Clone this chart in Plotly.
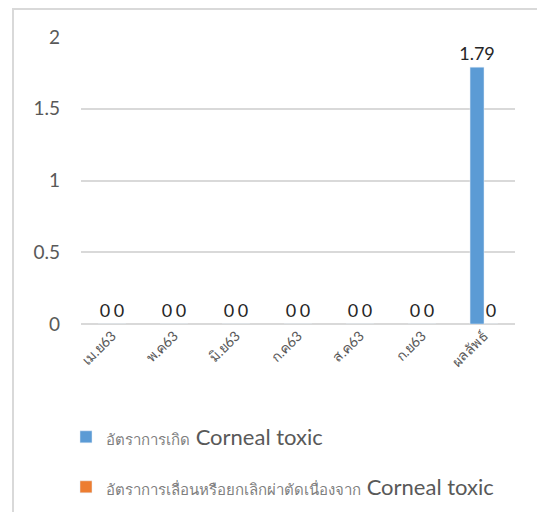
import plotly.graph_objects as go

# Monthly categories (Thai month abbreviations, B.E. 2563) plus summary column
categories = ["เม.ย63", "พ.ค63", "มิ.ย63", "ก.ค63", "ส.ค63", "ก.ย63", "ผลลัพธ์"]
incidence = [0, 0, 0, 0, 0, 0, 1.79]
postponed = [0, 0, 0, 0, 0, 0, 0]
y_ticks = [0, 0.5, 1, 1.5, 2]

blue = "#5B9BD5"
orange = "#ED7D31"
grey_text = "#595959"
num_font = "Lato, 'Open Sans', sans-serif"

def legend_label(thai):
    return (f"<span style='font-size:15px;color:#7f7f7f'>{thai}</span>"
            f" <span style='font-size:22px'>Corneal toxic</span>")

fig = go.Figure()
fig.add_trace(go.Bar(
    x=categories, y=incidence, name=legend_label("อัตราการเกิด"),
    marker_color=blue, text=[f"{v:g}" for v in incidence],
    textposition="outside", cliponaxis=False, constraintext="none",
    textfont=dict(size=18, color="#262626", family=num_font),
    legend="legend",
))
fig.add_trace(go.Bar(
    x=categories, y=postponed,
    name=legend_label("อัตราการเลื่อนหรือยกเลิกผ่าตัดเนื่องจาก"),
    marker_color=orange, text=[f"{v:g}" for v in postponed],
    textposition="outside", cliponaxis=False, constraintext="none",
    textfont=dict(size=18, color="#262626", family=num_font),
    legend="legend2",
))

W, H = 537, 512
ml, mr, mt, mb = 81, 22, 37, 188
pw, ph = W - ml - mr, H - mt - mb

def px_x(x):
    return (x - ml) / pw

def px_y(y):
    return (H - mb - y) / ph

def legend_box(y_px):
    return dict(
        xref="container", yref="container",
        x=66 / W, y=1 - y_px / H, xanchor="left", yanchor="middle",
        bgcolor="rgba(0,0,0,0)", font=dict(size=22, color=grey_text),
        itemwidth=30,
    )

fig.update_layout(
    width=W, height=H,
    margin=dict(l=ml, r=mr, t=mt, b=mb, autoexpand=False),
    paper_bgcolor="white", plot_bgcolor="white",
    barmode="group", bargap=0.55, bargroupgap=0,
    font=dict(family=num_font, color=grey_text),
    xaxis=dict(
        tickangle=-45, tickfont=dict(size=14, color=grey_text),
        showgrid=False, showline=False, ticks="",
    ),
    yaxis=dict(
        range=[0, 2], tickvals=y_ticks, ticktext=[f"{v:g}" for v in y_ticks],
        tickfont=dict(size=19, color=grey_text),
        showgrid=True, gridcolor="#D9D9D9", gridwidth=2,
        zeroline=True, zerolinecolor="#D9D9D9", zerolinewidth=2,
        ticklabelstandoff=20, showline=False, ticks="",
    ),
    legend=legend_box(437),
    legend2=legend_box(487),
    showlegend=True,
    shapes=[dict(
        type="rect", xref="paper", yref="paper", layer="below",
        x0=px_x(13), x1=px_x(560), y0=px_y(530), y1=px_y(9),
        line=dict(color="#D9D9D9", width=2), fillcolor="rgba(0,0,0,0)",
    )],
)

fig.write_html("out.html")
